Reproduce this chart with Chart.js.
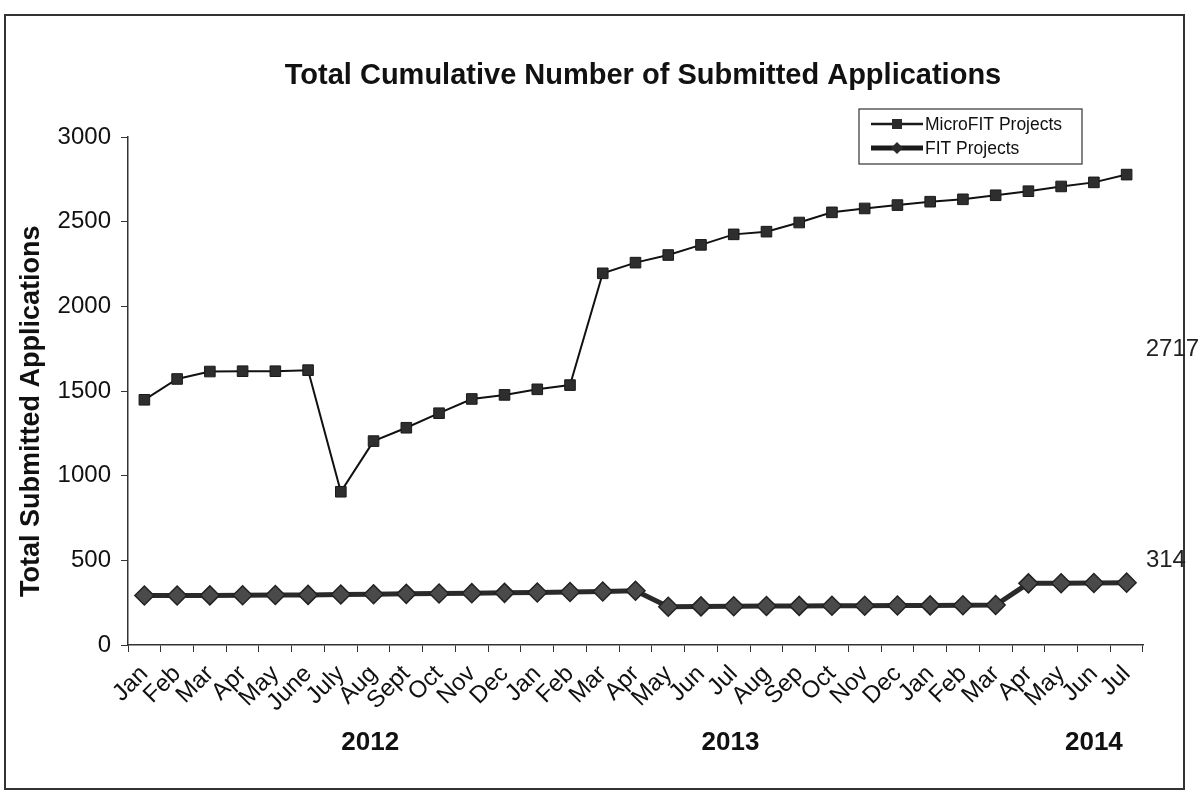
<!DOCTYPE html>
<html>
<head>
<meta charset="utf-8">
<script src="https://cdn.jsdelivr.net/npm/chart.js@4"></script>
<style>
  html, body { margin: 0; padding: 0; background: #fff; }
  #wrap { width: 1202px; height: 794px; }
</style>
</head>
<body>
<div id="wrap"><canvas id="chart" width="1202" height="794"></canvas></div>
<script>
const months = [
  "Jan", "Feb", "Mar", "Apr", "May", "June", "July", "Aug", "Sept", "Oct", "Nov", "Dec",
  "Jan", "Feb", "Mar", "Apr", "May", "Jun", "Jul", "Aug", "Sep", "Oct", "Nov", "Dec",
  "Jan", "Feb", "Mar", "Apr", "May", "Jun", "Jul"
];
const microFit = [
  1448, 1571, 1615, 1617, 1617, 1623, 905, 1204, 1283, 1369, 1453, 1477,
  1510, 1535, 2195, 2258, 2303, 2363, 2425, 2441, 2495, 2555, 2578, 2598,
  2618, 2632, 2656, 2680, 2708, 2732, 2778
];
const fit = [
  292, 292, 293, 294, 295, 296, 298, 300, 302, 304, 306, 308,
  310, 313, 316, 320, 226, 228, 229, 230, 231, 232, 232, 233,
  234, 235, 236, 364, 365, 366, 368
];
const yTicks = [0, 500, 1000, 1500, 2000, 2500, 3000];
// year captions, placed at a category index on the x scale
const years = [["2012", 6.9], ["2013", 17.9], ["2014", 29.0]];
// loose numbers on the right side: [text, category index, value]
const sideNotes = [["2717", 31.4, 1745], ["314", 31.2, 500]];

const FONT = "'Liberation Sans', Arial, sans-serif";

const decor = {
  id: "decor",
  afterDraw(chart) {
    const ctx = chart.ctx;
    const xs = chart.scales.x, ys = chart.scales.y;
    ctx.save();
    // outer frame
    ctx.strokeStyle = "#333";
    ctx.lineWidth = 2;
    ctx.strokeRect(5, 15, 1179, 774);

    // title
    ctx.fillStyle = "#111";
    ctx.font = "bold 29px " + FONT;
    ctx.textAlign = "center";
    ctx.textBaseline = "middle";
    ctx.fillText("Total Cumulative Number of Submitted Applications", 643, 76);

    // y axis title, a bit below the middle of the axis like the original
    ctx.save();
    ctx.translate(32, ys.getPixelForValue(1380));
    ctx.rotate(-Math.PI / 2);
    ctx.font = "bold 27px " + FONT;
    ctx.fillText("Total Submitted Applications", 0, 0);
    ctx.restore();

    // year captions
    ctx.font = "bold 26px " + FONT;
    years.forEach(([t, i]) => ctx.fillText(t, xs.getPixelForValue(i), 743));

    // side notes
    ctx.font = "24px " + FONT;
    ctx.fillStyle = "#222";
    sideNotes.forEach(([t, i, v]) => ctx.fillText(t, xs.getPixelForValue(i), ys.getPixelForValue(v)));

    // legend box
    const lx = 859, ly = 109, lw = 223, lh = 55;
    ctx.fillStyle = "#fff";
    ctx.fillRect(lx, ly, lw, lh);
    ctx.strokeStyle = "#333";
    ctx.lineWidth = 1.2;
    ctx.strokeRect(lx, ly, lw, lh);
    const items = [
      { label: "MicroFIT Projects", y: ly + 15, width: 2.5, marker: "rect" },
      { label: "FIT Projects", y: ly + 39, width: 5, marker: "diamond" }
    ];
    items.forEach(it => {
      ctx.strokeStyle = "#1a1a1a";
      ctx.lineWidth = it.width;
      ctx.beginPath();
      ctx.moveTo(lx + 12, it.y);
      ctx.lineTo(lx + 64, it.y);
      ctx.stroke();
      ctx.fillStyle = "#2a2a2a";
      const cx = lx + 38;
      if (it.marker === "rect") {
        ctx.fillRect(cx - 5, it.y - 5, 10, 10);
      } else {
        ctx.beginPath();
        ctx.moveTo(cx, it.y - 6);
        ctx.lineTo(cx + 6, it.y);
        ctx.lineTo(cx, it.y + 6);
        ctx.lineTo(cx - 6, it.y);
        ctx.closePath();
        ctx.fill();
      }
      ctx.fillStyle = "#111";
      ctx.font = "17.5px " + FONT;
      ctx.textAlign = "left";
      ctx.fillText(it.label, lx + 66, it.y + 1);
    });
    ctx.restore();
  }
};

new Chart(document.getElementById("chart"), {
  type: "line",
  data: {
    labels: months,
    datasets: [
      {
        label: "MicroFIT Projects",
        data: microFit,
        borderColor: "#111",
        borderWidth: 2,
        pointStyle: "rect",
        pointRadius: 7.5,
        pointBackgroundColor: "#2e2e2e",
        pointBorderColor: "#1a1a1a",
        pointBorderWidth: 1,
        tension: 0
      },
      {
        label: "FIT Projects",
        data: fit,
        borderColor: "#2a2a2a",
        borderWidth: 5,
        pointStyle: "rectRot",
        pointRadius: 9.5,
        pointBackgroundColor: "#4a4a4a",
        pointBorderColor: "#222",
        pointBorderWidth: 1.5,
        tension: 0
      }
    ]
  },
  options: {
    responsive: false,
    animation: false,
    layout: { padding: { left: 14, top: 137, right: 59, bottom: 0 } },
    plugins: {
      legend: { display: false },
      tooltip: { enabled: false }
    },
    scales: {
      x: {
        offset: true,
        afterFit: (s) => { s.height = 149; },
        grid: { offset: true, drawOnChartArea: false, drawTicks: true, tickLength: 7, color: "#333" },
        border: { color: "#333", width: 1.5 },
        ticks: {
          autoSkip: false,
          minRotation: 45,
          maxRotation: 45,
          padding: 8,
          color: "#111",
          font: { family: FONT, size: 24 }
        }
      },
      y: {
        min: 0,
        max: 3000,
        afterFit: (s) => { s.width = 114; },
        afterBuildTicks: (s) => { s.ticks = yTicks.map(v => ({ value: v })); },
        grid: { drawOnChartArea: false, drawTicks: true, tickLength: 7, color: "#333" },
        border: { color: "#333", width: 1.5 },
        ticks: {
          padding: 10,
          color: "#111",
          font: { family: FONT, size: 24 },
          callback: (v) => String(v)
        }
      }
    }
  },
  plugins: [decor]
});
</script>
</body>
</html>
